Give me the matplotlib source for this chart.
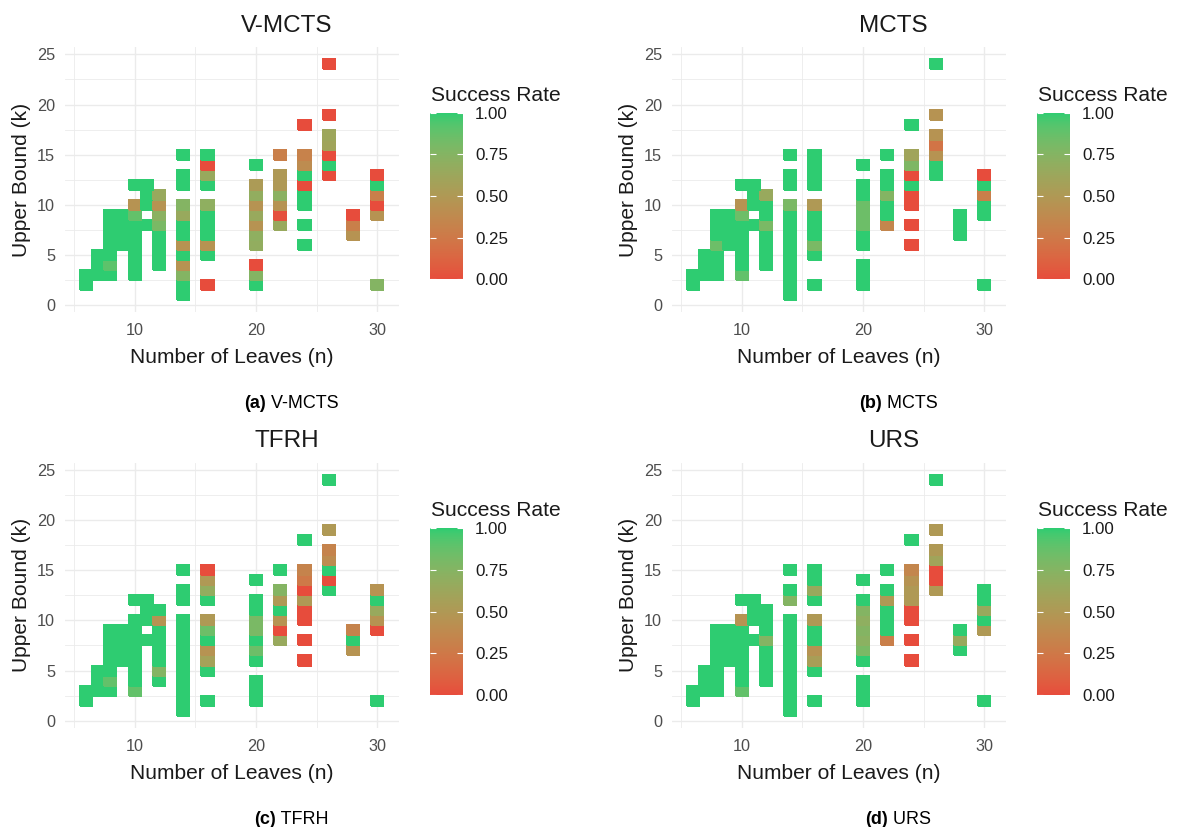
import numpy as np
import matplotlib
matplotlib.use("Agg")
import matplotlib.pyplot as plt
from matplotlib.colors import ListedColormap, Normalize
from matplotlib.cm import ScalarMappable

plt.rcParams['font.family'] = ['Liberation Sans', 'DejaVu Sans']

# ---------------- data ----------------
METHODS = ["V-MCTS", "MCTS", "TFRH", "URS"]
CAPTION_TAGS = ["(a)", "(b)", "(c)", "(d)"]
LOW_COLOR = "#E74C3C"
HIGH_COLOR = "#2ECC71"
X_TICKS = [10, 20, 30]
Y_TICKS = [0, 5, 10, 15, 20, 25]
CBAR_TICKS = [0.0, 0.25, 0.5, 0.75, 1.0]
CBAR_LABELS = ["0.00", "0.25", "0.50", "0.75", "1.00"]

# (number of leaves n, upper bound k, success rate)
VMCTS_TILES = [
    (6, 2, 1), (6, 3, 1),
    (7, 3, 1), (7, 4, 1), (7, 5, 1),
    (8, 3, 1), (8, 4, .9), (8, 5, 1), (8, 6, 1), (8, 7, 1), (8, 8, 1), (8, 9, 1),
    (9, 6, 1), (9, 7, 1), (9, 8, 1), (9, 9, 1),
    (10, 3, 1), (10, 4, 1), (10, 5, 1), (10, 6, 1), (10, 7, 1), (10, 8, 1), (10, 9, .88), (10, 10, .45), (10, 12, 1),
    (11, 8, 1), (11, 10, 1), (11, 11, 1), (11, 12, 1),
    (12, 4, 1), (12, 5, 1), (12, 6, 1), (12, 7, 1), (12, 8, .8), (12, 9, .72), (12, 10, .45), (12, 11, .65),
    (14, 1, 1), (14, 2, 1), (14, 3, .75), (14, 4, .45), (14, 5, 1), (14, 6, .45), (14, 7, 1), (14, 8, 1),
    (14, 9, .65), (14, 10, .75), (14, 12, 1), (14, 13, 1), (14, 15, 1),
    (16, 2, 0), (16, 5, 1), (16, 6, .45), (16, 7, 1), (16, 8, 1), (16, 9, 1), (16, 10, .7), (16, 12, 1),
    (16, 13, .65), (16, 14, 0), (16, 15, 1),
    (20, 2, 1), (20, 3, .75), (20, 4, 0), (20, 6, .68), (20, 7, .7), (20, 8, .45), (20, 9, .65), (20, 10, .45),
    (20, 11, .68), (20, 12, .52), (20, 14, 1),
    (22, 8, .65), (22, 9, .02), (22, 10, .45), (22, 11, .72), (22, 12, .5), (22, 13, .5), (22, 15, .3),
    (24, 6, 1), (24, 8, 1), (24, 10, 1), (24, 11, 1), (24, 12, 0), (24, 13, 1), (24, 14, .4), (24, 15, .32), (24, 18, 0),
    (26, 13, 0), (26, 14, 1), (26, 15, 0), (26, 16, .6), (26, 17, .62), (26, 19, 0), (26, 24, 0),
    (28, 7, .45), (28, 8, .3), (28, 9, 0),
    (30, 2, .75), (30, 9, .45), (30, 10, 0), (30, 11, .3), (30, 12, 1), (30, 13, 0),
]

MCTS_TILES = [
    (6, 2, 1), (6, 3, 1),
    (7, 3, 1), (7, 4, 1), (7, 5, 1),
    (8, 3, 1), (8, 4, 1), (8, 5, 1), (8, 6, .85), (8, 7, 1), (8, 8, 1), (8, 9, 1),
    (9, 6, 1), (9, 7, 1), (9, 8, 1), (9, 9, 1),
    (10, 3, .88), (10, 4, 1), (10, 5, 1), (10, 6, 1), (10, 7, 1), (10, 8, 1), (10, 9, .85), (10, 10, .45), (10, 12, 1),
    (11, 8, 1), (11, 10, 1), (11, 11, 1), (11, 12, 1),
    (12, 4, 1), (12, 5, 1), (12, 6, 1), (12, 7, 1), (12, 8, .8), (12, 9, 1), (12, 10, 1), (12, 11, .65),
    (14, 1, 1), (14, 2, 1), (14, 3, 1), (14, 4, 1), (14, 5, 1), (14, 6, 1), (14, 7, 1), (14, 8, 1), (14, 9, 1),
    (14, 10, .8), (14, 12, 1), (14, 13, 1), (14, 15, 1),
    (16, 2, 1), (16, 5, 1), (16, 6, .8), (16, 7, 1), (16, 8, 1), (16, 9, 1), (16, 10, .5), (16, 12, 1),
    (16, 13, 1), (16, 14, 1), (16, 15, 1),
    (20, 2, 1), (20, 3, 1), (20, 4, 1), (20, 6, 1), (20, 7, 1), (20, 8, .85), (20, 9, .85), (20, 10, .85),
    (20, 11, 1), (20, 12, 1), (20, 14, 1),
    (22, 8, .35), (22, 9, 1), (22, 10, 1), (22, 11, .75), (22, 12, 1), (22, 13, 1), (22, 15, 1),
    (24, 6, 0), (24, 8, 0), (24, 10, 0), (24, 11, 0), (24, 12, 1), (24, 13, 0), (24, 14, .78), (24, 15, .6), (24, 18, 1),
    (26, 13, 1), (26, 14, 1), (26, 15, .45), (26, 16, .22), (26, 17, .45), (26, 19, .45), (26, 24, 1),
    (28, 7, 1), (28, 8, 1), (28, 9, 1),
    (30, 2, 1), (30, 9, 1), (30, 10, 1), (30, 11, .3), (30, 12, 1), (30, 13, 0),
]

TFRH_TILES = [
    (6, 2, 1), (6, 3, 1),
    (7, 3, 1), (7, 4, 1), (7, 5, 1),
    (8, 3, 1), (8, 4, .88), (8, 5, 1), (8, 6, 1), (8, 7, 1), (8, 8, 1), (8, 9, 1),
    (9, 6, 1), (9, 7, 1), (9, 8, 1), (9, 9, 1),
    (10, 3, .88), (10, 4, 1), (10, 5, 1), (10, 6, 1), (10, 7, 1), (10, 8, 1), (10, 9, 1), (10, 10, 1), (10, 12, 1),
    (11, 8, 1), (11, 10, 1), (11, 11, 1), (11, 12, 1),
    (12, 4, 1), (12, 5, .75), (12, 6, 1), (12, 7, 1), (12, 8, 1), (12, 9, 1), (12, 10, .45), (12, 11, 1),
    (14, 1, 1), (14, 2, 1), (14, 3, 1), (14, 4, 1), (14, 5, 1), (14, 6, 1), (14, 7, 1), (14, 8, 1), (14, 9, 1),
    (14, 10, 1), (14, 12, 1), (14, 13, 1), (14, 15, 1),
    (16, 2, 1), (16, 5, 1), (16, 6, .58), (16, 7, .45), (16, 8, 1), (16, 9, .85), (16, 10, .5), (16, 12, 1),
    (16, 13, .68), (16, 14, .5), (16, 15, 0),
    (20, 2, 1), (20, 3, 1), (20, 4, 1), (20, 6, 1), (20, 7, .85), (20, 8, 1), (20, 9, .8), (20, 10, .8),
    (20, 11, 1), (20, 12, 1), (20, 14, 1),
    (22, 8, .65), (22, 9, 0), (22, 10, .45), (22, 11, 1), (22, 12, .5), (22, 13, .75), (22, 15, 1),
    (24, 6, 0), (24, 8, 0), (24, 10, 0), (24, 11, 0), (24, 12, .5), (24, 13, 0), (24, 14, .25), (24, 15, .33), (24, 18, 1),
    (26, 13, 1), (26, 14, 0), (26, 15, 1), (26, 16, .4), (26, 17, .33), (26, 19, .5), (26, 24, 1),
    (28, 7, .45), (28, 8, 1), (28, 9, .33),
    (30, 2, 1), (30, 9, 0), (30, 10, .45), (30, 11, .65), (30, 12, 1), (30, 13, .45),
]

URS_TILES = [
    (6, 2, 1), (6, 3, 1),
    (7, 3, 1), (7, 4, 1), (7, 5, 1),
    (8, 3, 1), (8, 4, 1), (8, 5, 1), (8, 6, 1), (8, 7, 1), (8, 8, 1), (8, 9, 1),
    (9, 6, 1), (9, 7, 1), (9, 8, 1), (9, 9, 1),
    (10, 3, .88), (10, 4, 1), (10, 5, 1), (10, 6, 1), (10, 7, 1), (10, 8, 1), (10, 9, 1), (10, 10, .45), (10, 12, 1),
    (11, 8, 1), (11, 10, 1), (11, 11, 1), (11, 12, 1),
    (12, 4, 1), (12, 5, 1), (12, 6, 1), (12, 7, 1), (12, 8, .75), (12, 9, 1), (12, 10, 1), (12, 11, 1),
    (14, 1, 1), (14, 2, 1), (14, 3, 1), (14, 4, 1), (14, 5, 1), (14, 6, 1), (14, 7, 1), (14, 8, 1), (14, 9, 1),
    (14, 10, 1), (14, 12, .75), (14, 13, 1), (14, 15, 1),
    (16, 2, 1), (16, 5, 1), (16, 6, .55), (16, 7, .45), (16, 8, 1), (16, 9, 1), (16, 10, .5), (16, 12, 1),
    (16, 13, .65), (16, 14, 1), (16, 15, 1),
    (20, 2, 1), (20, 3, 1), (20, 4, 1), (20, 6, 1), (20, 7, .8), (20, 8, .72), (20, 9, .75), (20, 10, .7),
    (20, 11, .75), (20, 12, 1), (20, 14, 1),
    (22, 8, .3), (22, 9, 1), (22, 10, 1), (22, 11, 1), (22, 12, .5), (22, 13, 1), (22, 15, 1),
    (24, 6, 0), (24, 8, 0), (24, 10, 0), (24, 11, 0), (24, 12, .5), (24, 13, .5), (24, 14, .45), (24, 15, .35), (24, 18, 1),
    (26, 13, .5), (26, 14, 0), (26, 15, 0), (26, 16, .6), (26, 17, .5), (26, 19, .5), (26, 24, 1),
    (28, 7, 1), (28, 8, .65), (28, 9, 1),
    (30, 2, 1), (30, 9, .5), (30, 10, 1), (30, 11, .65), (30, 12, 1), (30, 13, 1),
]

ALL_TILES = [VMCTS_TILES, MCTS_TILES, TFRH_TILES, URS_TILES]

# ---------------- colour scale (CIELAB interpolation, like ggplot) ----------------
_M = np.array([[0.4124564, 0.3575761, 0.1804375],
               [0.2126729, 0.7151522, 0.0721750],
               [0.0193339, 0.1191920, 0.9503041]])
_WHITE = np.array([0.95047, 1.0, 1.08883])
_D = 6 / 29


def _hex(h):
    return np.array([int(h[i:i + 2], 16) for i in (1, 3, 5)]) / 255.0


def _to_lab(rgb):
    lin = np.where(rgb <= 0.04045, rgb / 12.92, ((rgb + 0.055) / 1.055) ** 2.4)
    xyz = _M @ lin / _WHITE
    f = np.where(xyz > _D ** 3, np.cbrt(xyz), xyz / (3 * _D * _D) + 4 / 29)
    return np.array([116 * f[1] - 16, 500 * (f[0] - f[1]), 200 * (f[1] - f[2])])


def _from_lab(lab):
    L, a, b = lab
    fy = (L + 16) / 116
    fx = fy + a / 500
    fz = fy - b / 200
    fs = np.array([fx, fy, fz])
    xyz = np.where(fs > _D, fs ** 3, 3 * _D * _D * (fs - 4 / 29)) * _WHITE[:, None]
    lin = np.linalg.inv(_M) @ xyz
    lin = np.clip(lin, 0, None)
    srgb = np.where(lin <= 0.0031308, 12.92 * lin, 1.055 * lin ** (1 / 2.4) - 0.055)
    return np.clip(srgb, 0, 1)


_t = np.linspace(0, 1, 256)
_lab = _to_lab(_hex(LOW_COLOR))[:, None] * (1 - _t) + _to_lab(_hex(HIGH_COLOR))[:, None] * _t
CMAP = ListedColormap(_from_lab(_lab).T)
NORM = Normalize(0, 1)

# ---------------- layout (pixels) ----------------
W, H = 1177, 827
fig = plt.figure(figsize=(W / 100, H / 100), dpi=100)
fig.patch.set_facecolor('white')


def px_axes(left, top, right, bottom):
    return fig.add_axes([left / W, 1 - bottom / H, (right - left) / W, (bottom - top) / H])


DX = [0, 607, 0, 607]
DY = [0, 0, 415.5, 415.5]

TXT = '#1A1A1A'
TICK_TXT = '#4D4D4D'
GRID = '#EBEBEB'

renderer = fig.canvas.get_renderer()

for i, (name, tiles) in enumerate(zip(METHODS, ALL_TILES)):
    dx, dy = DX[i], DY[i]
    ax = px_axes(64.9 + dx, 47.4 + dy, 398.5 + dx, 312.2 + dy)
    ax.set_facecolor('white')

    x_edges = np.arange(4.5, 31.6, 1.0)
    y_edges = np.arange(-0.5, 25.6, 1.0)
    Z = np.full((len(y_edges) - 1, len(x_edges) - 1), np.nan)
    for n, k, r in tiles:
        Z[int(k), int(n) - 5] = r
    ax.pcolormesh(x_edges, y_edges, np.ma.masked_invalid(Z), cmap=CMAP, norm=NORM,
                  shading='flat', zorder=2, edgecolors='face', linewidth=0.2)

    ax.set_xlim(4.25, 31.75)
    ax.set_ylim(-0.7, 25.7)
    ax.set_xticks(X_TICKS)
    ax.set_xticks([5, 15, 25], minor=True)
    ax.set_yticks(Y_TICKS)
    ax.set_yticks([2.5, 7.5, 12.5, 17.5, 22.5], minor=True)
    ax.grid(which='major', color=GRID, lw=1.0, zorder=0)
    ax.grid(which='minor', color=GRID, lw=0.6, zorder=0)
    ax.set_axisbelow(True)
    for s in ax.spines.values():
        s.set_visible(False)
    ax.tick_params(which='both', length=0)
    ax.tick_params(axis='x', labelsize=11.7, labelcolor=TICK_TXT, pad=8)
    ax.tick_params(axis='y', labelsize=11.7, labelcolor=TICK_TXT, pad=7)

    # titles and axis labels
    fig.text((286.5 + dx) / W, 1 - (31.7 + dy) / H, name, ha='center', va='baseline',
             fontsize=17.5, color=TXT)
    fig.text((231.7 + dx) / W, 1 - (363.3 + dy) / H, "Number of Leaves (n)", ha='center',
             va='baseline', fontsize=15.1, color=TXT)
    fig.text((22 + dx) / W, 1 - (179.8 + dy) / H, "Upper Bound (k)", ha='center', va='center',
             rotation=90, fontsize=15.1, color=TXT)

    # colorbar
    cax = px_axes(430 + dx, 112.7 + dy, 463.3 + dx, 279.3 + dy)
    cb = fig.colorbar(ScalarMappable(norm=NORM, cmap=CMAP), cax=cax, ticks=CBAR_TICKS)
    cb.outline.set_visible(False)
    cb.ax.set_yticklabels(CBAR_LABELS)
    cax.tick_params(left=True, right=True, labelleft=False, labelright=True, direction='in',
                    length=4.3, width=0.8, color='white', labelsize=12.2, labelcolor=TXT, pad=8.4)
    fig.text((431 + dx) / W, 1 - (100.7 + dy) / H, "Success Rate", ha='left', va='baseline',
             fontsize=15.1, color=TXT)

    # caption with bold tag
    cy = 1 - (408.3 + dy) / H
    t1 = fig.text(0, cy, CAPTION_TAGS[i], ha='left', va='baseline', fontsize=13,
                  fontweight='bold', color='black')
    t2 = fig.text(0, cy, " " + name, ha='left', va='baseline', fontsize=13, color='black')
    w1 = t1.get_window_extent(renderer).width
    w2 = t2.get_window_extent(renderer).width
    start = 291 + dx - (w1 + w2) / 2
    t1.set_x(start / W)
    t2.set_x((start + w1) / W)

fig.savefig("out.png", dpi=100, facecolor='white')
